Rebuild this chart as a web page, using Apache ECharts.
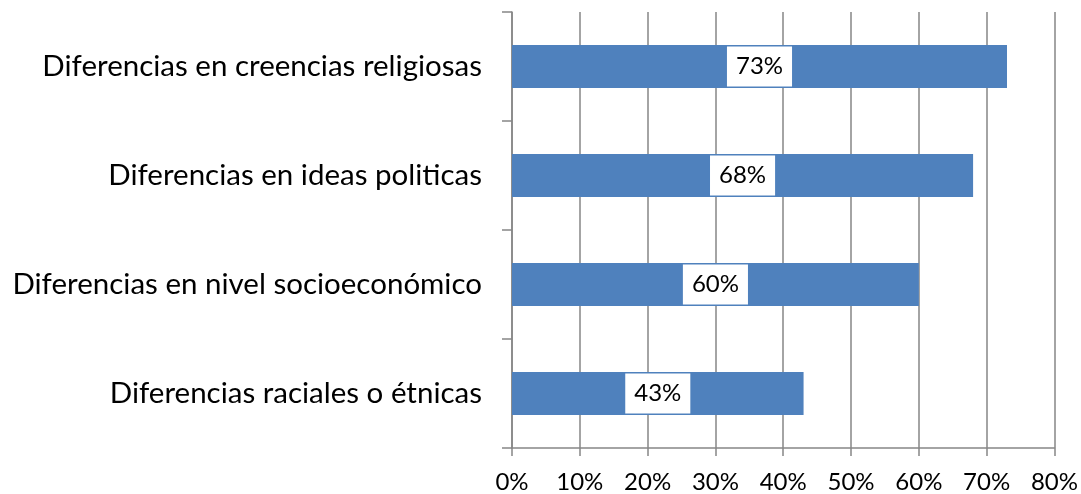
<!DOCTYPE html>
<html>
<head>
<meta charset="utf-8">
<script src="https://cdn.jsdelivr.net/npm/echarts@6/dist/echarts.min.js"></script>
<style>html,body{margin:0;padding:0;background:#fff}#c{width:1081px;height:494px}</style>
</head>
<body>
<div id="c"></div>
<script>
var categories = ["Diferencias en creencias religiosas", "Diferencias en ideas politicas", "Diferencias en nivel socioeconómico", "Diferencias raciales o étnicas"];
var values = [73, 68, 60, 43];
var xTicks = [0, 10, 20, 30, 40, 50, 60, 70, 80];

var chart = echarts.init(document.getElementById('c'), null, {renderer: 'canvas'});
var FONT = 'Lato, "Open Sans", sans-serif';
chart.setOption({
  animation: false,
  grid: {left: 512, right: 25, top: 12, bottom: 46, containLabel: false},
  xAxis: {
    type: 'value', min: xTicks[0], max: xTicks[xTicks.length - 1], interval: 10,
    axisLine: {show: true, lineStyle: {color: '#868686', width: 1.5}},
    axisTick: {show: true, length: 8, lineStyle: {color: '#868686', width: 1.5}},
    splitLine: {show: true, lineStyle: {color: '#868686', width: 1.5}},
    axisLabel: {formatter: '{value}%', color: '#000', fontSize: 24, fontFamily: FONT, margin: 22}
  },
  yAxis: {
    type: 'category', data: categories, inverse: true,
    axisLine: {show: true, lineStyle: {color: '#868686', width: 1.5}},
    axisTick: {show: true, length: 10, lineStyle: {color: '#868686', width: 1.5}},
    axisLabel: {color: '#000', fontSize: 29.5, fontFamily: FONT, margin: 30}
  },
  series: [{
    type: 'bar', data: values, barWidth: 43,
    itemStyle: {color: '#4F81BD'},
    label: {
      show: true, position: 'inside', formatter: '{c}%',
      color: '#000', fontSize: 24, fontFamily: FONT,
      backgroundColor: '#fff', padding: [8, 9, 8, 9]
    }
  }]
});
</script>
</body>
</html>
